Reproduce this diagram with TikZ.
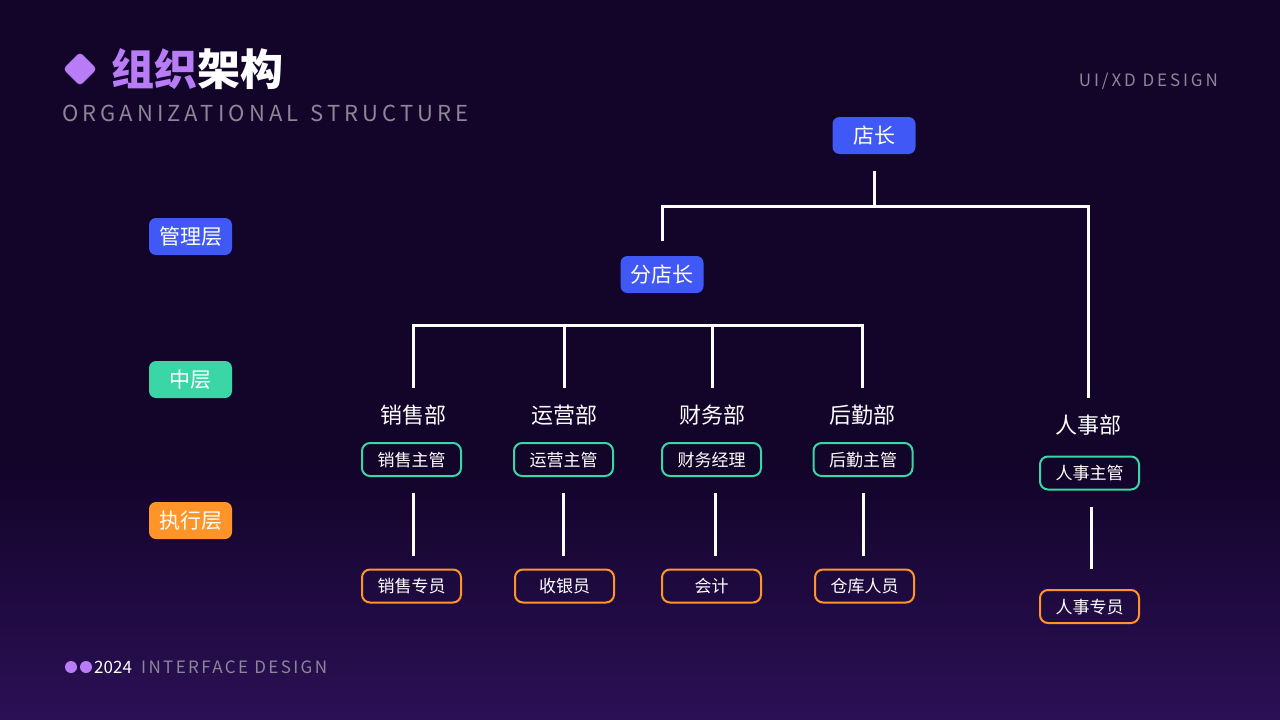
\documentclass[tikz,border=0pt]{standalone}
\usepackage{fontspec}
\setmainfont{Noto Sans CJK SC}
\newfontfamily\spacedA[LetterSpace=18.5]{Noto Sans CJK SC}
\newfontfamily\spacedB[LetterSpace=17]{Noto Sans CJK SC}
\newfontfamily\spacedC[LetterSpace=14]{Noto Sans CJK SC}
\definecolor{bgtop}{HTML}{13042A}
\definecolor{bgbot}{HTML}{2B1055}
\definecolor{cblue}{HTML}{4059F6}
\definecolor{cteal}{HTML}{3AD6A6}
\definecolor{corange}{HTML}{FF9429}
\definecolor{cpurple}{HTML}{B77CF6}
\definecolor{cgray}{HTML}{8C8797}
\tikzset{
  fs/.style={font=\fontsize{#1}{#1}\selectfont},
  filledbox/.style={text height=18.5pt, text depth=2.5pt, rounded corners=7pt, fill=#1, minimum width=83pt, minimum height=37pt, inner sep=0pt, text=white, font=\fontsize{21}{21}\selectfont},
  outlinebox/.style={text height=15pt, text depth=2pt, draw=#1, line width=2pt, rounded corners=8pt, minimum width=99pt, minimum height=33pt, inner sep=0pt, text=white, font=\fontsize{17}{17}\selectfont},
  deptlabel/.style={text height=19.4pt, text depth=2.6pt, text=white, inner sep=1pt, font=\fontsize{22}{22}\selectfont},
  conn/.style={draw=white, line width=3pt},
}
\begin{document}
\begin{tikzpicture}[x=1pt,y=-1pt]
\useasboundingbox (0,0) rectangle (1280,720);
% background
\fill[bgtop] (0,0) rectangle (1280,720);
\shade[top color=bgtop, bottom color=bgbot] (0,470) rectangle (1280,720);
% header
\fill[cpurple, rounded corners=4pt, rotate around={45:(80,69)}] (68,57) rectangle (92,81);
\node[anchor=west, inner sep=0, text=white, font=\fontsize{43}{43}\selectfont\bfseries] (title) at (111,69) {\textcolor{cpurple}{组织}架构};
\node[anchor=west, inner sep=0, text=cgray, font=\fontsize{22}{22}\selectfont\spacedA] (subtitle) at (62,113) {ORGANIZATIONAL\hspace{3pt} STRUCTURE};
\node[anchor=east, inner sep=0, text=cgray, font=\fontsize{17}{17}\selectfont\spacedB] (uixd) at (1218,81) {UI/XD DESIGN};
% footer
\fill[cpurple] (71,667) circle (6);
\fill[cpurple] (86,667) circle (6);
\node[anchor=west, inner sep=0, text=white, fs=17] (year) at (94,667) {2024};
\node[anchor=west, inner sep=0, text=cgray, font=\fontsize{17}{17}\selectfont\spacedC] (iface) at (141,667) {INTERFACE DESIGN};
% layer labels
\node[filledbox=cblue] (l1) at (190.5,236.5) {管理层};
\node[filledbox=cteal] (l2) at (190.5,379.5) {中层};
\node[filledbox=corange] (l3) at (190.5,520.5) {执行层};
% management
\node[filledbox=cblue] (dz) at (874,135.5) {店长};
\node[filledbox=cblue] (fdz) at (662,274.5) {分店长};
% departments
\node[deptlabel] (xsb) at (413,415) {销售部};
\node[deptlabel] (yyb) at (564,415) {运营部};
\node[deptlabel] (cwb) at (712,415) {财务部};
\node[deptlabel] (hqb) at (862,415) {后勤部};
\node[deptlabel] (rsb) at (1088,425) {人事部};
% supervisors
\node[outlinebox=cteal] (xszg) at (411.5,459.5) {销售主管};
\node[outlinebox=cteal] (yyzg) at (563.5,459.5) {运营主管};
\node[outlinebox=cteal] (cwjl) at (711.5,459.5) {财务经理};
\node[outlinebox=cteal] (hqzg) at (863,459.5) {后勤主管};
\node[outlinebox=cteal] (rszg) at (1089.5,473) {人事主管};
% staff
\node[outlinebox=corange] (xszy) at (411.5,586) {销售专员};
\node[outlinebox=corange] (syy) at (564.5,586) {收银员};
\node[outlinebox=corange] (kj) at (711.5,586) {会计};
\node[outlinebox=corange] (ckry) at (864.5,586) {仓库人员};
\node[outlinebox=corange] (rszy) at (1089.5,606.5) {人事专员};
% connectors
\coordinate (top) at (874,206);
\coordinate (mid) at (0,325);
\draw[conn, shorten <=17pt] (dz.south) -- (top);
\draw[conn, shorten <=15pt, shorten >=15pt] (fdz.north) |- (top) -| (rsb.north);
\draw[conn, shorten <=15pt, shorten >=15pt] (xsb.north) |- (hqb.north |- mid) -- (hqb.north);
\draw[conn, shorten <=15pt] (yyb.north) -- (yyb.north |- mid);
\draw[conn, shorten <=15pt] (cwb.north) -- (cwb.north |- mid);
\draw[conn, shorten <=16pt, shorten >=13pt] ([xshift=1.5pt]xszg.south) -- ([xshift=1.5pt]xszg.south |- xszy.north);
\draw[conn, shorten <=16pt, shorten >=13pt] (yyzg.south) -- (yyzg.south |- syy.north);
\draw[conn, shorten <=16pt, shorten >=13pt] ([xshift=3.5pt]cwjl.south) -- ([xshift=3.5pt]cwjl.south |- kj.north);
\draw[conn, shorten <=16pt, shorten >=13pt] (hqzg.south) -- (hqzg.south |- ckry.north);
\draw[conn, shorten <=16pt, shorten >=20pt] ([xshift=1.5pt]rszg.south) -- ([xshift=1.5pt]rszg.south |- rszy.north);
\end{tikzpicture}
\end{document}
